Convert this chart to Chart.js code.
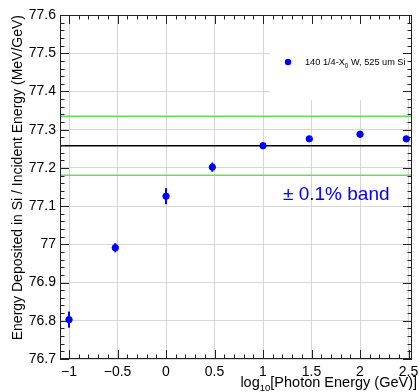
<!DOCTYPE html>
<html>
<head>
<meta charset="utf-8">
<script src="https://cdn.jsdelivr.net/npm/chart.js@4/dist/chart.umd.min.js"></script>
<style>
  html, body { margin: 0; padding: 0; background: #fff; }
  #wrap { width: 419px; height: 392px; }
</style>
</head>
<body>
<div id="wrap"><canvas id="chart" width="419" height="392"></canvas></div>
<script>
// log10 of photon energy (GeV) and measured response
const logEnergies = [-1, -0.5229, 0, 0.4771, 1, 1.4771, 2, 2.4771];
const responses = [76.803, 76.991, 77.126, 77.202, 77.258, 77.276, 77.288, 77.276];
const responseErrors = [0.021, 0.012, 0.021, 0.012, 0.003, 0.003, 0.003, 0.003];

const referenceValue = 77.258;
const bandFraction = 0.001;

const xMin = -1.093, xMax = 2.536;
const yMin = 76.7, yMax = 77.6;

const seriesLabel = ['140 1/4-X', '0', ' W, 525 um Si'];
const bandText = '\u00b1 0.1% band';
const xTitle = ['log', '10', '[Photon Energy (GeV)]'];
const yTitle = 'Energy Deposited in Si / Incident Energy (MeV/GeV)';

const fontName = '"Liberation Sans", Arial, sans-serif';
const blue = '#0000ff';
const green = '#66dd5e';

const points = logEnergies.map((x, i) => ({ x: x, y: responses[i] }));

function flatLine(value) {
  return [{ x: xMin, y: value }, { x: xMax, y: value }];
}

// keep the frame where ROOT puts it, labels may hang over the edges
function noLabelPadding(scale) {
  scale.paddingLeft = 0;
  scale.paddingRight = 0;
  scale.paddingTop = 0;
  scale.paddingBottom = 0;
}

const rootStyle = {
  id: 'rootStyle',
  beforeDatasetsDraw(chart) {
    const ctx = chart.ctx;
    const area = chart.chartArea;
    const xs = chart.scales.x;
    const ys = chart.scales.y;
    // legend box hides the grid behind it
    ctx.save();
    ctx.fillStyle = '#fff';
    ctx.fillRect(270, area.top, area.right - 270, 100 - area.top);
    // error bars
    ctx.strokeStyle = blue;
    ctx.lineWidth = 2;
    logEnergies.forEach((x, i) => {
      const px = xs.getPixelForValue(x);
      ctx.beginPath();
      ctx.moveTo(px, ys.getPixelForValue(responses[i] - responseErrors[i]));
      ctx.lineTo(px, ys.getPixelForValue(responses[i] + responseErrors[i]));
      ctx.stroke();
    });
    ctx.restore();
  },
  afterDraw(chart) {
    const ctx = chart.ctx;
    const area = chart.chartArea;
    const xs = chart.scales.x;
    const ys = chart.scales.y;
    ctx.save();
    ctx.strokeStyle = '#222';
    ctx.lineWidth = 1;

    // ticks inside the frame, on all four sides
    ctx.beginPath();
    for (let v = -1; v <= xMax + 1e-9; v += 0.1) {
      const px = Math.round(xs.getPixelForValue(v)) + 0.5;
      const major = Math.abs(v * 2 - Math.round(v * 2)) < 1e-6;
      const len = major ? 9 : 4.5;
      ctx.moveTo(px, area.bottom); ctx.lineTo(px, area.bottom - len);
      ctx.moveTo(px, area.top); ctx.lineTo(px, area.top + len);
    }
    for (let k = 0; k <= 45; k++) {
      const v = yMin + k * 0.02;
      const py = Math.round(ys.getPixelForValue(v)) + 0.5;
      const len = k % 5 === 0 ? 9 : 4.5;
      ctx.moveTo(area.left, py); ctx.lineTo(area.left + len, py);
      ctx.moveTo(area.right, py); ctx.lineTo(area.right - len, py);
    }
    ctx.stroke();
    ctx.strokeRect(area.left + 0.5, area.top + 0.5, area.right - area.left - 1, area.bottom - area.top - 1);

    // legend entry
    ctx.fillStyle = blue;
    ctx.beginPath();
    ctx.arc(288, 62, 3.2, 0, Math.PI * 2);
    ctx.fill();
    ctx.fillStyle = '#000';
    ctx.textBaseline = 'alphabetic';
    let tx = 305;
    ctx.font = '9.2px ' + fontName;
    ctx.fillText(seriesLabel[0], tx, 65);
    tx += ctx.measureText(seriesLabel[0]).width;
    ctx.font = '6.3px ' + fontName;
    ctx.fillText(seriesLabel[1], tx, 67.5);
    tx += ctx.measureText(seriesLabel[1]).width;
    ctx.font = '9.2px ' + fontName;
    ctx.fillText(seriesLabel[2], tx, 65);

    // band annotation
    ctx.fillStyle = blue;
    ctx.font = '19px ' + fontName;
    ctx.fillText(bandText, 283, 200);

    // x axis title, right aligned to the frame
    ctx.fillStyle = '#000';
    ctx.font = '14.5px ' + fontName;
    const w0 = ctx.measureText(xTitle[0]).width;
    const w2 = ctx.measureText(xTitle[2]).width;
    ctx.font = '9.5px ' + fontName;
    const w1 = ctx.measureText(xTitle[1]).width;
    let sx = 417 - (w0 + w1 + w2);
    ctx.font = '14.5px ' + fontName;
    ctx.fillText(xTitle[0], sx, 387);
    sx += w0;
    ctx.font = '9.5px ' + fontName;
    ctx.fillText(xTitle[1], sx, 391);
    sx += w1;
    ctx.font = '14.5px ' + fontName;
    ctx.fillText(xTitle[2], sx, 387);

    // y axis title, rotated, ending at the top of the frame
    ctx.translate(22, 15);
    ctx.rotate(-Math.PI / 2);
    ctx.textAlign = 'right';
    ctx.font = '14px ' + fontName;
    ctx.fillText(yTitle, 0, 0);
    ctx.restore();
  }
};

new Chart(document.getElementById('chart'), {
  type: 'scatter',
  data: {
    datasets: [
      {
        data: points,
        backgroundColor: blue,
        borderColor: blue,
        pointRadius: 3.2,
        pointHoverRadius: 3.2,
        order: 0
      },
      {
        type: 'line',
        data: flatLine(referenceValue),
        borderColor: '#000',
        borderWidth: 1.6,
        pointRadius: 0,
        order: 1
      },
      {
        type: 'line',
        data: flatLine(referenceValue * (1 + bandFraction)),
        borderColor: green,
        borderWidth: 1.6,
        pointRadius: 0,
        order: 1
      },
      {
        type: 'line',
        data: flatLine(referenceValue * (1 - bandFraction)),
        borderColor: green,
        borderWidth: 1.6,
        pointRadius: 0,
        order: 1
      }
    ]
  },
  options: {
    responsive: false,
    animation: false,
    events: [],
    layout: { padding: { top: 15, right: 7, left: 0, bottom: 0 } },
    plugins: { legend: { display: false }, tooltip: { enabled: false } },
    scales: {
      x: {
        type: 'linear',
        min: xMin,
        max: xMax,
        afterFit(scale) { scale.height = 33; noLabelPadding(scale); },
        grid: { color: '#d6d6d6', drawTicks: false },
        border: { display: false },
        ticks: {
          stepSize: 0.5,
          includeBounds: false,
          padding: 5,
          color: '#000',
          font: { family: fontName, size: 14 },
          maxRotation: 0,
          autoSkip: false,
          callback: v => String(Number(v.toFixed(1))).replace('-', '\u2212')
        }
      },
      y: {
        type: 'linear',
        min: yMin,
        max: yMax,
        afterFit(scale) { scale.width = 60; noLabelPadding(scale); },
        grid: { color: '#d6d6d6', drawTicks: false },
        border: { display: false },
        ticks: {
          stepSize: 0.1,
          includeBounds: false,
          padding: 4,
          color: '#000',
          font: { family: fontName, size: 14 },
          autoSkip: false,
          callback: v => String(Number(v.toFixed(1)))
        }
      }
    }
  },
  plugins: [rootStyle]
});
</script>
</body>
</html>
